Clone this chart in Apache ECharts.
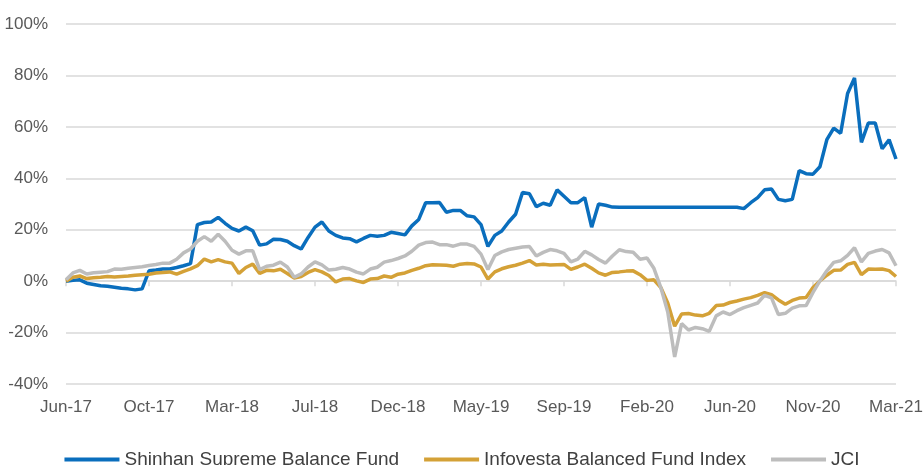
<!DOCTYPE html>
<html>
<head>
<meta charset="utf-8">
<script src="https://cdn.jsdelivr.net/npm/echarts@6/dist/echarts.min.js"></script>
<style>
  html, body { margin: 0; padding: 0; background: #fff; }
  #chart { width: 924px; height: 465px; }
</style>
</head>
<body>
<div id="chart"></div>
<script>
// tick labels, one every 12 points
const tickLabels = ['Jun-17', 'Oct-17', 'Mar-18', 'Jul-18', 'Dec-18', 'May-19', 'Sep-19', 'Feb-20', 'Jun-20', 'Nov-20', 'Mar-21'];
const pointsPerTick = 12;

// values in %
const shinhan = [
  0, 0.3, 0.5, -0.8, -1.3, -1.8, -2.0, -2.4, -2.8, -3.0, -3.4, -3.0,
  4.0, 4.3, 4.7, 4.7, 5.3, 6.0, 6.8, 22, 22.8, 23.0, 24.8, 22.5,
  20.5, 19.5, 21, 19.6, 14, 14.5, 16.3, 16.2, 15.5, 13.8, 12.5, 17,
  21, 23, 19.5, 17.8, 16.8, 16.5, 15.3, 16.6, 17.8, 17.5, 17.8, 19,
  18.5, 18, 21.5, 24, 30.5, 30.5, 30.6, 26.8, 27.5, 27.5, 25.4, 25,
  22, 13.5, 17.8, 19.5, 23, 26, 34.5, 34, 29, 30.3, 29.5, 35.5,
  33, 30.5, 30.5, 32.5, 21, 30, 29.5, 28.8, 28.7, 28.7, 28.7, 28.7,
  28.7, 28.7, 28.7, 28.7, 28.7, 28.7, 28.7, 28.7, 28.7, 28.7, 28.7, 28.7,
  28.7, 28.7, 28.2, 30.5, 32.5, 35.5, 35.8, 31.8, 31.3, 31.8, 43, 41.8,
  41.6, 44.5, 55, 59.5, 57.5, 73, 79, 54, 61.5, 61.5, 51.5, 55,
  47.5
];
const infovesta = [
  0, 1.5, 2.0, 1.0, 1.3, 1.5, 1.8, 1.6, 1.8, 2.0, 2.3, 2.5,
  2.7, 3.2, 3.4, 3.6, 2.7, 3.8, 4.8, 6.0, 8.6, 7.5, 8.4, 7.5,
  7.0, 3.0, 5.3, 6.6, 3.0, 4.2, 4.0, 4.6, 3.0, 1.2, 1.8, 3.4,
  4.5, 3.6, 2.2, -0.3, 0.8, 1.0, 0.1, -0.5, 0.8, 1.0, 2.0, 1.5,
  2.7, 3.2, 4.2, 5.0, 6.0, 6.4, 6.3, 6.2, 5.8, 6.6, 6.9, 6.7,
  5.5, 0.8, 3.6, 4.8, 5.6, 6.2, 7.0, 8.0, 6.3, 6.6, 6.3, 6.4,
  6.5, 4.6, 5.5, 6.6, 5.0, 3.2, 2.3, 3.4, 3.6, 3.9, 4.0, 2.5,
  0.3, 0.5, -2.5, -8.5, -17.5, -12.8, -12.6, -13.2, -13.5, -12.5, -9.5, -9.3,
  -8.3, -7.7, -7.0, -6.4, -5.5, -4.5, -5.3, -7.3, -9.0, -7.5, -6.6, -6.4,
  -2.5, 0.1, 2.3, 4.2, 4.3, 6.5, 7.3, 2.5, 4.7, 4.6, 4.7, 4.1,
  1.8
];
const jci = [
  0.5, 3.2, 4.2, 2.8, 3.3, 3.5, 3.7, 4.7, 4.6, 5.0, 5.3, 5.6,
  6.1, 6.5, 7.0, 7.0, 8.5, 11.0, 12.5, 15.5, 17.3, 15.5, 18.2, 15.5,
  12, 10.5, 11.8, 11.8, 4.5, 5.8, 6.2, 7.4, 5.5, 1.5, 2.8, 5.5,
  7.5, 6.3, 4.3, 4.6, 5.3, 4.7, 3.5, 2.8, 4.7, 5.4, 7.4, 8.0,
  8.8, 9.8, 11.6, 14.0, 15.0, 15.2, 14.2, 14.2, 13.6, 14.4, 14.4, 13.5,
  10.5, 4.5, 10.0, 11.4, 12.3, 12.8, 13.3, 13.5, 9.8, 11.2, 12.3, 11.8,
  10.8, 7.5, 8.6, 11.6, 10.2, 8.4, 7.0, 9.8, 12.2, 11.5, 11.2, 8.5,
  9.0, 5.0, -2.5, -12, -29.5, -16.5, -19, -18, -18.5, -19.5, -13.5, -12,
  -13, -11.5, -10.3, -9.4, -8.5, -5.5, -6.5, -13, -12.5, -10.5, -9.6, -9.5,
  -4.4, 0.1, 4, 7.3, 7.9, 10, 13, 7.5, 10.8, 11.7, 12.3, 11,
  6
];

const seriesNames = ['Shinhan Supreme Balance Fund', 'Infovesta Balanced Fund Index', 'JCI'];
const seriesColors = ['#0A6EBD', '#D4A137', '#BDBDBD'];

const categories = shinhan.map((v, i) => String(i));

const chart = echarts.init(document.getElementById('chart'));

const option = {
  animation: false,
  textStyle: { fontFamily: 'Liberation Sans, sans-serif' },
  grid: { left: 66, right: 28, top: 24, bottom: 81, containLabel: false, outerBoundsMode: 'none' },
  legend: {
    data: seriesNames,
    left: 'center',
    top: 445,
    icon: 'rect',
    itemWidth: 55,
    itemHeight: 4,
    itemGap: 25,
    textStyle: { fontSize: 19, color: '#404040' }
  },
  xAxis: {
    type: 'category',
    data: categories,
    boundaryGap: false,
    axisLine: { onZero: true, lineStyle: { color: '#D9D9D9', width: 1.5 } },
    axisTick: { interval: pointsPerTick - 1, length: 5, lineStyle: { color: '#D9D9D9', width: 1.5 } },
    axisLabel: {
      interval: pointsPerTick - 1,
      margin: 15,
      fontSize: 17,
      color: '#595959',
      formatter: (v, idx) => tickLabels[idx / pointsPerTick] || ''
    },
    splitLine: { show: false }
  },
  yAxis: {
    type: 'value',
    min: -40,
    max: 100,
    interval: 20,
    axisLine: { show: false },
    axisTick: { show: false },
    axisLabel: { formatter: '{value}%', fontSize: 17, color: '#595959', margin: 18 },
    splitLine: { lineStyle: { color: '#D9D9D9', width: 1.5 } }
  },
  series: [shinhan, infovesta, jci].map((d, k) => ({
    name: seriesNames[k],
    type: 'line',
    data: d,
    showSymbol: false,
    symbol: 'none',
    color: seriesColors[k],
    lineStyle: { width: 3.5, color: seriesColors[k] }
  }))
};

chart.setOption(option);
</script>
</body>
</html>
